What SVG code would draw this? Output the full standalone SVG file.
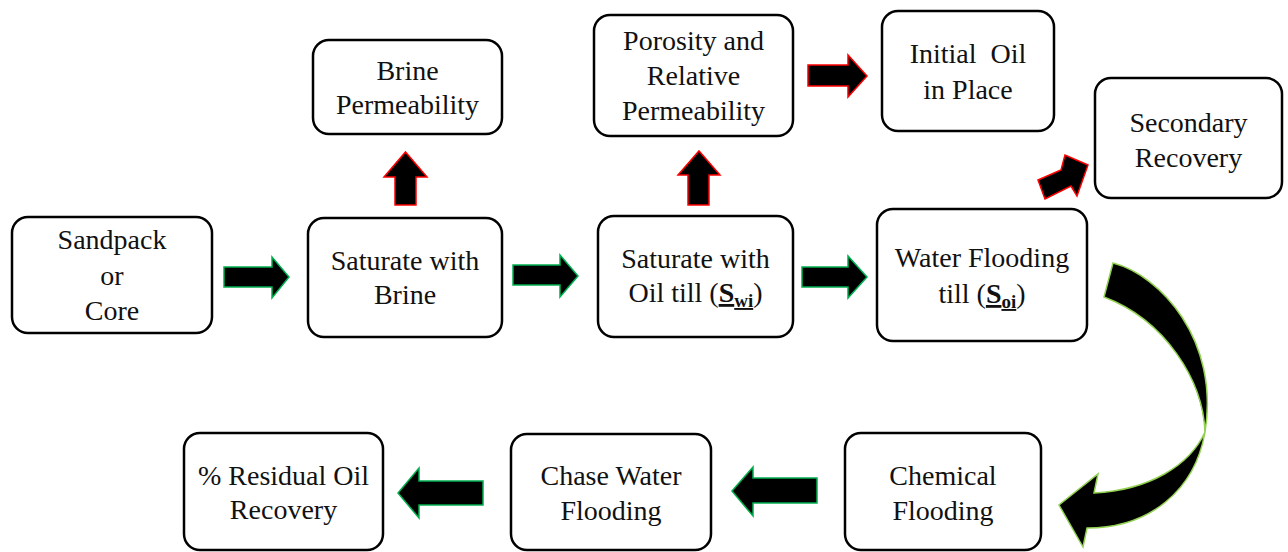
<svg xmlns="http://www.w3.org/2000/svg" width="1288" height="552" viewBox="0 0 1288 552">
  <style>
    .box { fill: #ffffff; stroke: #000000; stroke-width: 2.5; }
    .lbl { font-family: "Liberation Serif", "Times New Roman", serif; font-size: 28px; fill: #111111; text-anchor: middle; }
    .go { fill: #000000; stroke: #00b050; stroke-width: 1.5; stroke-linejoin: miter; }
    .side { fill: #000000; stroke: #ff0000; stroke-width: 1.5; stroke-linejoin: miter; }
    .turn { fill: #000000; stroke: #92d050; stroke-width: 1.5; stroke-linejoin: miter; }
    .sub { font-weight: bold; text-decoration: underline; }
  </style>

  <!-- flow connectors -->
  <g id="connectors">
    <polygon class="go" points="224,267 272,267 272,257 289,277 272,298 272,287 224,287"/>
    <polygon class="go" points="513,265 560,265 560,255 578,276 560,297 560,285 513,285"/>
    <polygon class="go" points="802,267 848,267 848,256 867,277 848,298 848,287 802,287"/>
    <polygon class="side" points="395,205 395,177 384,177 405.5,152 427,177 416,177 416,205"/>
    <polygon class="side" points="688,205 688,175 678,175 699,151 720,175 709,175 709,205"/>
    <polygon class="side" points="808,65 848,65 848,55 867,76 848,97 848,86 808,86"/>
    <polygon class="side" points="1038,180 1061,170 1065,155 1088,165 1077,196 1071,186 1045,199"/>
    <path class="turn" d="M 1113,263 C 1160,275 1220,340 1205,432 C 1195,490 1150,528 1087,528 L 1083,547 L 1059,505 L 1098,474 L 1094,493 C 1150,490 1190,465 1205,432 C 1203,380 1165,320 1104,297 Z"/>
    <polygon class="go" points="483,481 419,481 419,468 398,493 419,518 419,505 483,505"/>
    <polygon class="go" points="817,478 753,478 753,467 732,491 753,516 753,503 817,503"/>
  </g>

  <g id="sandpack">
    <rect class="box" x="12" y="217" width="200" height="116" rx="16"/>
    <text class="lbl" x="112" y="249">Sandpack</text>
    <text class="lbl" x="112" y="285">or</text>
    <text class="lbl" x="112" y="320">Core</text>
  </g>

  <g id="saturate-brine">
    <rect class="box" x="308" y="218" width="194" height="119" rx="16"/>
    <text class="lbl" x="405" y="270">Saturate with</text>
    <text class="lbl" x="405" y="304">Brine</text>
  </g>

  <g id="brine-permeability">
    <rect class="box" x="313" y="40" width="189" height="94" rx="16"/>
    <text class="lbl" x="407.5" y="80">Brine</text>
    <text class="lbl" x="407.5" y="114">Permeability</text>
  </g>

  <g id="saturate-oil">
    <rect class="box" x="598" y="216" width="195" height="121" rx="16"/>
    <text class="lbl" x="695.5" y="268">Saturate with</text>
    <text class="lbl" x="695.5" y="302">Oil till (<tspan class="sub">S</tspan><tspan class="sub" font-size="19" dy="5">wi</tspan><tspan dy="-5">)</tspan></text>
  </g>

  <g id="porosity">
    <rect class="box" x="594" y="15" width="199" height="121" rx="16"/>
    <text class="lbl" x="693.5" y="50">Porosity and</text>
    <text class="lbl" x="693.5" y="85">Relative</text>
    <text class="lbl" x="693.5" y="120">Permeability</text>
  </g>

  <g id="initial-oil">
    <rect class="box" x="882" y="11" width="172" height="120" rx="16"/>
    <text class="lbl" x="968" y="63" xml:space="preserve">Initial  Oil</text>
    <text class="lbl" x="968" y="99">in Place</text>
  </g>

  <g id="secondary-recovery">
    <rect class="box" x="1095" y="78" width="187" height="120" rx="16"/>
    <text class="lbl" x="1188.5" y="132">Secondary</text>
    <text class="lbl" x="1188.5" y="167">Recovery</text>
  </g>

  <g id="water-flooding">
    <rect class="box" x="877" y="209" width="210" height="132" rx="16"/>
    <text class="lbl" x="982" y="267">Water Flooding</text>
    <text class="lbl" x="982" y="303">till (<tspan class="sub">S</tspan><tspan class="sub" font-size="19" dy="5">oi</tspan><tspan dy="-5">)</tspan></text>
  </g>

  <g id="chemical-flooding">
    <rect class="box" x="845" y="433" width="196" height="117" rx="16"/>
    <text class="lbl" x="943" y="485">Chemical</text>
    <text class="lbl" x="943" y="520">Flooding</text>
  </g>

  <g id="chase-water">
    <rect class="box" x="511" y="434" width="200" height="116" rx="16"/>
    <text class="lbl" x="611" y="485">Chase Water</text>
    <text class="lbl" x="611" y="520">Flooding</text>
  </g>

  <g id="residual-oil">
    <rect class="box" x="184" y="433" width="199" height="117" rx="16"/>
    <text class="lbl" x="283.5" y="485">% Residual Oil</text>
    <text class="lbl" x="283.5" y="519">Recovery</text>
  </g>
</svg>
